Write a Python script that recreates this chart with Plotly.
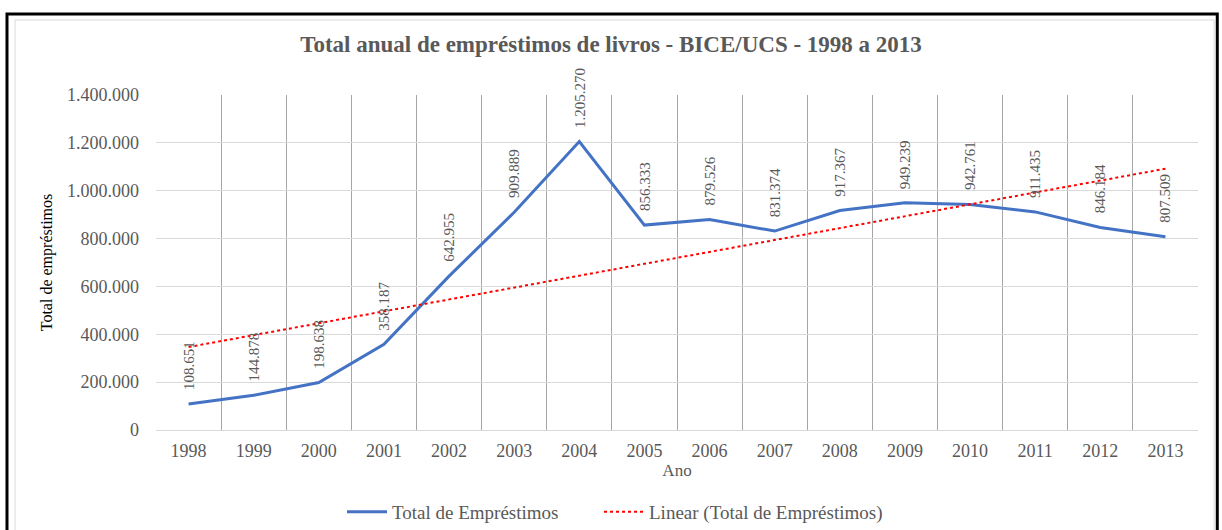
import numpy as np
import plotly.graph_objects as go

# Dados
anos = [str(a) for a in range(1998, 2014)]
emprestimos = [108651, 144878, 198638, 358187, 642955, 909889, 1205270, 856333,
               879526, 831374, 917367, 949239, 942761, 911435, 846184, 807509]
y_ticks = [0, 200000, 400000, 600000, 800000, 1000000, 1200000, 1400000]

GRAY = "#595959"
FONT = "Liberation Serif"

# Linha de tendência linear (mínimos quadrados)
idx = np.arange(1, len(emprestimos) + 1)
coef = np.polyfit(idx, emprestimos, 1)
tendencia = np.polyval(coef, idx)

fig = go.Figure()

fig.add_trace(go.Scatter(
    x=anos, y=emprestimos, mode="lines", name="Total de Empréstimos",
    line=dict(color="#4472C4", width=3), legend="legend",
))
fig.add_trace(go.Scatter(
    x=anos, y=tendencia, mode="lines", name="Linear (Total de Empréstimos)",
    line=dict(color="#FF0000", width=2, dash="dot"), legend="legend2",
))

# rótulos de dados rotacionados (x pelo índice da categoria)
for i, v in enumerate(emprestimos):
    fig.add_annotation(
        x=i, y=v, text=f"{v:,}".replace(",", "."),
        textangle=-90, showarrow=False, yanchor="bottom", yshift=12,
        font=dict(family=FONT, size=15, color=GRAY),
    )

# moldura
fig.add_shape(type="rect", xref="paper", yref="paper",
              x0=-0.1430, x1=1.0185, y0=-0.32, y1=1.2418,
              line=dict(color="black", width=3))
fig.add_shape(type="rect", xref="paper", yref="paper",
              x0=-0.1353, x1=1.0155, y0=-0.32, y1=1.2238,
              line=dict(color="#d9d9d9", width=1))

leg = dict(orientation="h", xanchor="left", yref="container", xref="container",
           y=0.034, yanchor="middle", itemwidth=40,
           font=dict(family=FONT, size=19, color=GRAY))

fig.update_layout(
    width=1222, height=530,
    paper_bgcolor="white", plot_bgcolor="white",
    separators=",.",
    margin=dict(l=156, r=24, t=95, b=100),
    font=dict(family=FONT, size=16, color=GRAY),
    title=dict(
        text="<b>Total anual de empréstimos de livros - BICE/UCS - 1998 a 2013</b>",
        x=0.5, xanchor="center", y=0.917, yanchor="middle",
        font=dict(family=FONT, size=23, color=GRAY),
    ),
    showlegend=True,
    legend=dict(leg, x=342 / 1222),
    legend2=dict(leg, x=599 / 1222),
)

fig.update_xaxes(
    type="category", tickson="boundaries", showgrid=True, gridcolor="#a6a6a6",
    gridwidth=1, showline=True, linecolor="#d9d9d9", ticks="",
    ticklabelstandoff=4, automargin=False,
    tickfont=dict(family=FONT, size=18, color=GRAY),
    title=dict(text="Ano", standoff=2, font=dict(family=FONT, size=17, color=GRAY)),
    zeroline=False, range=[-0.5, 15.5],
)
fig.update_yaxes(
    range=[0, 1400000], tickvals=y_ticks, tickformat=",d",
    showgrid=True, gridcolor="#d9d9d9", gridwidth=1, zeroline=False,
    ticks="", ticklabelstandoff=16, automargin=False,
    tickfont=dict(family=FONT, size=18, color=GRAY),
    title=dict(text="Total de empréstimos", standoff=10,
               font=dict(family=FONT, size=16, color="black")),
)

fig.write_html("out.html", post_script="document.body.style.margin='0';",
               config={"displayModeBar": False})
